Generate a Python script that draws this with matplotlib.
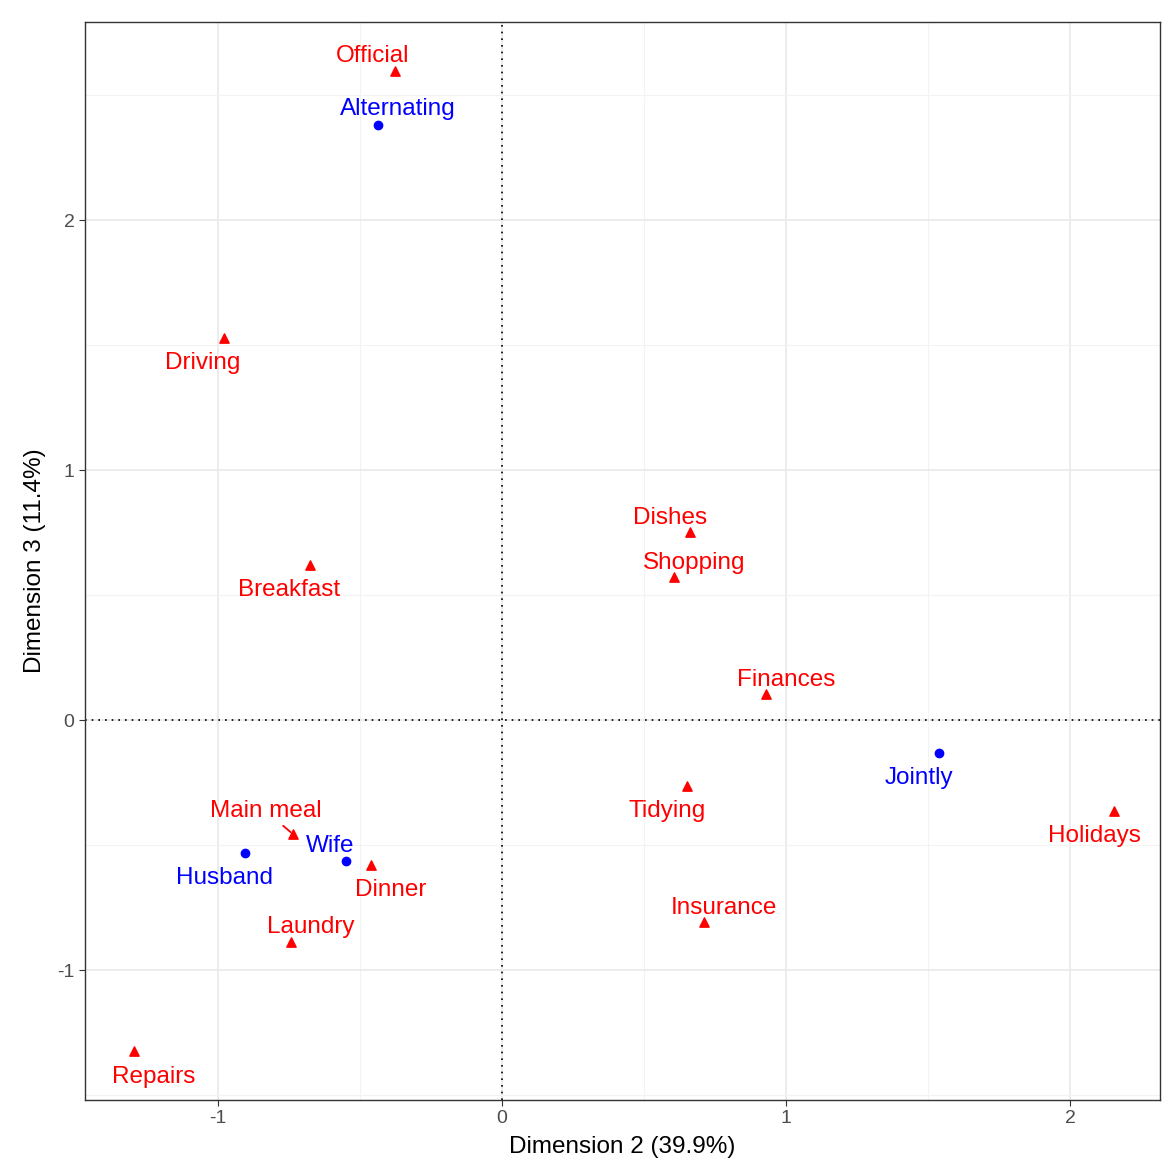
import matplotlib
matplotlib.use('Agg')
import matplotlib.pyplot as plt
from matplotlib.ticker import MultipleLocator

plt.rcParams['font.family'] = ['Liberation Sans', 'DejaVu Sans']
plt.rcParams['axes.unicode_minus'] = False

# row categories (tasks) - red triangles
tasks = ['Official', 'Driving', 'Breakfast', 'Dishes', 'Shopping', 'Finances',
         'Holidays', 'Tidying', 'Insurance', 'Main meal', 'Dinner', 'Laundry', 'Repairs']
task_x = [-0.377, -0.979, -0.676, 0.662, 0.606, 0.930, 2.155, 0.651, 0.711, -0.736, -0.461, -0.743, -1.296]
task_y = [2.596, 1.528, 0.620, 0.752, 0.572, 0.104, -0.364, -0.264, -0.808, -0.456, -0.580, -0.888, -1.324]
# label offsets (pixels) as placed by the repel layout
task_off = [(-22, 18), (-21, -22), (-21, -22), (-20, 17), (20, 17), (20, 17),
            (-20, -22), (-20, -22), (20, 17), (-27, 26), (20, -22), (20, 18), (20, -23)]

# column categories (who) - blue dots
who = ['Alternating', 'Jointly', 'Wife', 'Husband']
who_x = [-0.437, 1.539, -0.549, -0.905]
who_y = [2.380, -0.132, -0.564, -0.532]
who_off = [(20, 19), (-20, -22), (-16, 18), (-20, -22)]

fig = plt.figure(figsize=(11.66, 11.69), dpi=100)
ax = fig.add_axes([0.0729, 0.059, 0.922, 0.922])

ax.set_xlim(-1.468, 2.317)
ax.set_ylim(-1.52, 2.792)
ax.xaxis.set_major_locator(MultipleLocator(1))
ax.yaxis.set_major_locator(MultipleLocator(1))
ax.xaxis.set_minor_locator(MultipleLocator(0.5))
ax.yaxis.set_minor_locator(MultipleLocator(0.5))
ax.grid(which='major', color='#EBEBEB', lw=1.3)
ax.grid(which='minor', color='#F3F3F3', lw=0.8)
ax.set_axisbelow(True)
ax.tick_params(which='minor', length=0)
ax.tick_params(which='major', length=4, color='#333333', labelsize=14, labelcolor='#4D4D4D')
for s in ax.spines.values():
    s.set_color('#333333')
    s.set_linewidth(1.0)

ax.axhline(0, color='black', ls=(0, (1, 3)), lw=1.2)
ax.axvline(0, color='black', ls=(0, (1, 3)), lw=1.2)

ax.scatter(task_x, task_y, marker='^', s=45, color='red', zorder=3)
ax.scatter(who_x, who_y, marker='o', s=36, color='blue', zorder=3)

shift = -3  # small nudge down so labels sit like the reference
for name, x, y, off in zip(tasks, task_x, task_y, task_off):
    off = (off[0], off[1] + shift)
    if name == 'Main meal':
        ax.annotate(name, (x, y), xytext=off, textcoords='offset pixels',
                    ha='center', va='center', color='red', fontsize=17.5,
                    arrowprops=dict(arrowstyle='-', color='red', lw=1.3,
                                    shrinkA=1, shrinkB=2))
    else:
        ax.annotate(name, (x, y), xytext=off, textcoords='offset pixels',
                    ha='center', va='center', color='red', fontsize=17.5)

for name, x, y, off in zip(who, who_x, who_y, who_off):
    ax.annotate(name, (x, y), xytext=(off[0], off[1] + shift), textcoords='offset pixels',
                ha='center', va='center', color='blue', fontsize=17.5)

ax.set_xlabel('Dimension 2 (39.9%)', fontsize=17.5, labelpad=6)
ax.set_ylabel('Dimension 3 (11.4%)', fontsize=17.5, labelpad=8)

fig.savefig('out.png', dpi=100)
